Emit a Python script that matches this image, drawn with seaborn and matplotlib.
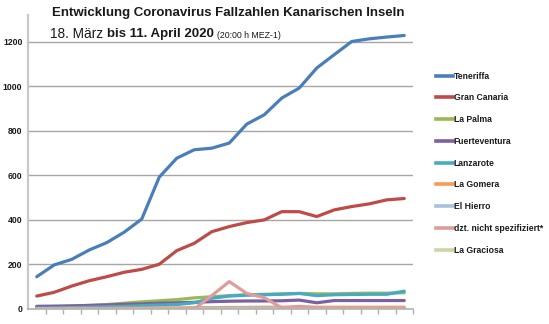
import matplotlib
matplotlib.use("Agg")
import matplotlib.pyplot as plt
import seaborn as sns
import pandas as pd
import numpy as np

# Daily case counts per island (22 reporting days)
days = list(range(1, 23))
teneriffa = [145, 198, 223, 265, 298, 345, 404, 592, 677, 715, 722, 745,
             830, 872, 947, 992, 1082, 1142, 1201, 1213, 1221, 1228]
gran_canaria = [58, 75, 103, 127, 145, 165, 178, 201, 262, 295, 347, 370,
                388, 400, 437, 437, 415, 445, 460, 472, 490, 496]
la_palma = [8, 10, 13, 16, 20, 26, 32, 37, 42, 50, 55, 60,
            64, 66, 68, 70, 68, 68, 70, 71, 71, 73]
fuerteventura = [12, 13, 14, 16, 18, 21, 23, 26, 28, 30, 33, 35,
                 36, 36, 37, 40, 28, 38, 38, 38, 38, 38]
lanzarote = [4, 5, 6, 8, 10, 12, 15, 18, 20, 28, 48, 58,
             62, 64, 66, 70, 60, 64, 65, 66, 66, 80]
la_gomera = [2, 2, 3, 3, 3, 4, 4, 5, 5, 6, 6, 7,
             7, 8, 8, 8, 8, 8, 8, 8, 8, 8]
el_hierro = [1, 1, 1, 1, 1, 1, 2, 2, 2, 2, 2, 3,
             3, 3, 3, 3, 3, 3, 3, 3, 3, 3]
nicht_spez = [0, 0, 0, 0, 0, 0, 0, 0, 0, 0, 60, 123,
              70, 51, 5, 12, 6, 3, 3, 3, 3, 3]
la_graciosa = [0] * 22

islands = ["Teneriffa", "Gran Canaria", "La Palma", "Fuerteventura", "Lanzarote",
           "La Gomera", "El Hierro", "dzt. nicht spezifiziert*", "La Graciosa"]
series = [teneriffa, gran_canaria, la_palma, fuerteventura, lanzarote,
          la_gomera, el_hierro, nicht_spez, la_graciosa]
colors = ["#4A7EBB", "#BE4B48", "#98B954", "#7D60A0", "#46AAC5",
          "#F59D56", "#A7C0DE", "#DE9D9B", "#C6D9A0"]

df = pd.DataFrame({
    "Tag": np.tile(days, len(islands)),
    "Fälle": np.concatenate(series),
    "Insel": np.repeat(islands, len(days)),
})

fig = plt.figure(figsize=(5.49, 3.24), dpi=100)
ax = fig.add_axes([28 / 549, 1 - 309 / 324, 385 / 549, 294 / 324])

sns.lineplot(data=df, x="Tag", y="Fälle", hue="Insel", hue_order=islands,
             palette=colors, linewidth=2.3, ax=ax, legend=False,
             solid_capstyle="round", solid_joinstyle="round")

ax.set_xlim(0.5, 22.5)
ax.set_ylim(0, 1320)
ax.set_yticks(range(0, 1201, 200))
ax.set_xticks(np.arange(1.5, 23, 1.0))
ax.set_xticklabels([])
ax.set_xlabel("")
ax.set_ylabel("")
ax.grid(False)
for y in range(200, 1201, 200):
    ax.axhline(y, color="#A6A6A6", linewidth=1.0, zorder=0)

for side in ["top", "right"]:
    ax.spines[side].set_visible(False)
ax.spines["left"].set_color("#C8C8C8")
ax.spines["left"].set_linewidth(1.6)
ax.spines["bottom"].set_color("#B0B0B0")
ax.spines["bottom"].set_linewidth(1.2)
ax.tick_params(axis="x", direction="out", length=3.5, width=1.0, color="#B0B0B0")
ax.tick_params(axis="y", length=0, pad=4, labelsize=6.2, labelcolor="#1a1a1a")
for lab in ax.get_yticklabels():
    lab.set_fontweight("bold")
    lab.set_family(["Liberation Sans", "DejaVu Sans"])
ax.set_facecolor("none")

# Legend entries
handles = [plt.Line2D([], [], color=c, linewidth=2.6) for c in colors]
leg = fig.legend(handles, islands, loc="upper left",
                 bbox_to_anchor=(428 / 549, 1 - 64 / 324), frameon=False,
                 handlelength=2.0, handletextpad=0.08, labelspacing=1.48,
                 prop={"family": ["Liberation Sans", "DejaVu Sans"],
                       "size": 6.2, "weight": "bold"})
for t in leg.get_texts():
    t.set_color("#1a1a1a")

# Titles
fig.text(52 / 549, 1 - 13 / 324, "Entwicklung Coronavirus Fallzahlen Kanarischen Inseln",
         ha="left", va="center", fontsize=9.5, fontweight="bold",
         family=["Liberation Sans", "DejaVu Sans"], color="#1a1a1a")
t1 = fig.text(50 / 549, 1 - 34 / 324, "18. März ", ha="left", va="center",
              fontsize=9.8, family=["Liberation Sans", "DejaVu Sans"], color="#1a1a1a")
fig.canvas.draw()
r = fig.canvas.get_renderer()
bb = t1.get_window_extent(r)
x2 = bb.x1 / fig.bbox.width
t2 = fig.text(x2, 1 - 34 / 324, "bis 11. April 2020", ha="left", va="center",
              fontsize=9.5, fontweight="bold", family=["Liberation Sans", "DejaVu Sans"],
              color="#1a1a1a")
bb2 = t2.get_window_extent(r)
x3 = bb2.x1 / fig.bbox.width
fig.text(x3 + 3 / 549, 1 - 35 / 324, "(20:00 h MEZ-1)", ha="left", va="center",
         fontsize=6.3, family=["Liberation Sans", "DejaVu Sans"],
         color="#1a1a1a")

fig.savefig("out.png", dpi=100, facecolor="white")
